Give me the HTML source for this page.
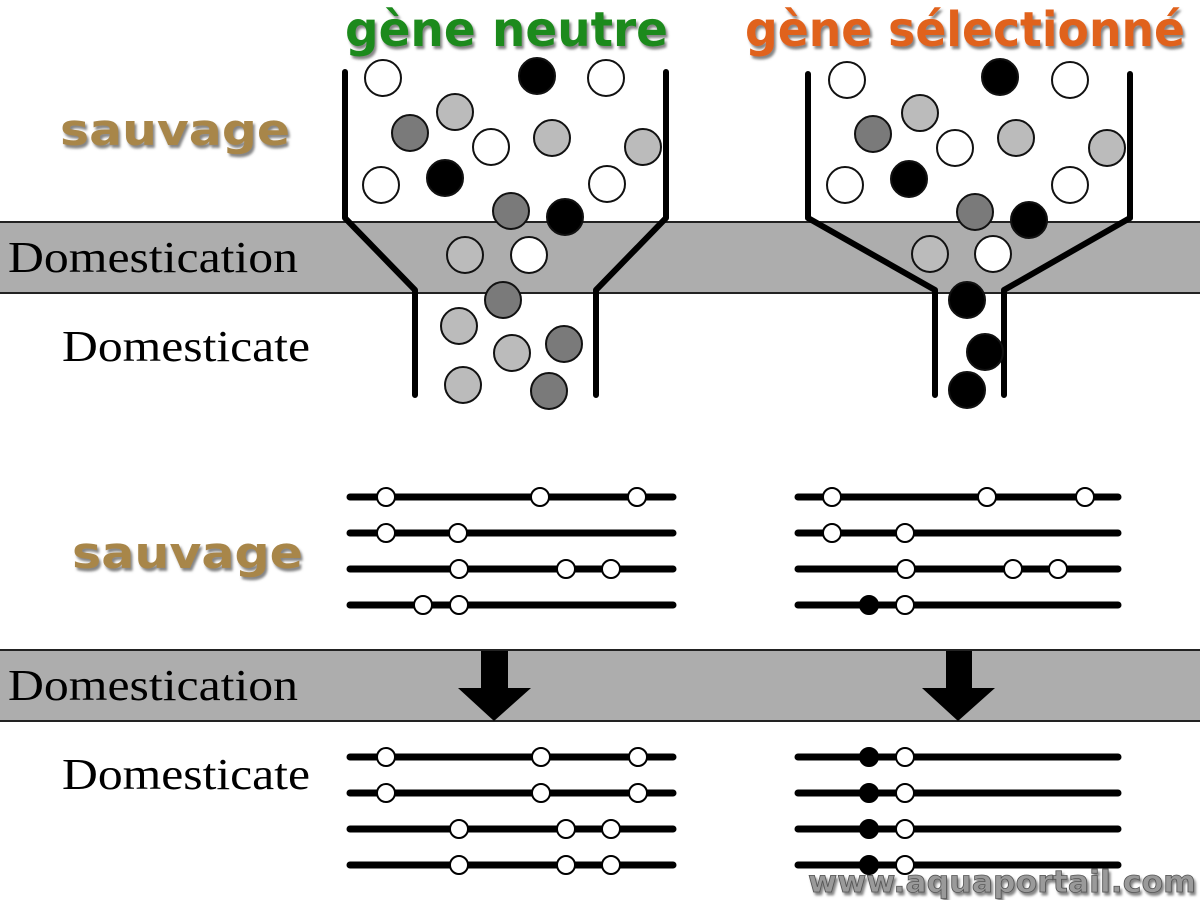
<!DOCTYPE html>
<html><head><meta charset="utf-8"><style>html,body{margin:0;padding:0;background:#fff}svg{display:block}</style></head>
<body>
<svg width="1200" height="900" viewBox="0 0 1200 900" xmlns="http://www.w3.org/2000/svg">
<defs>
<filter id="sh" x="-10%" y="-10%" width="130%" height="140%"><feDropShadow dx="2" dy="3" stdDeviation="1.2" flood-color="#666" flood-opacity="0.8"/></filter>
</defs>
<!-- bands -->
<rect x="-2" y="222" width="1204" height="71" fill="#adadad" stroke="#222" stroke-width="2"/>
<rect x="-2" y="650" width="1204" height="71" fill="#adadad" stroke="#222" stroke-width="2"/>

<!-- titles -->
<g font-family="'DejaVu Sans','Liberation Sans',sans-serif" font-weight="bold" filter="url(#sh)">
<text x="345" y="46" font-size="48" fill="#1e8a1e" textLength="323" lengthAdjust="spacingAndGlyphs">gène neutre</text>
<text x="745" y="46" font-size="48" fill="#e0621c" textLength="440" lengthAdjust="spacingAndGlyphs">gène sélectionné</text>
<text x="60" y="145" font-size="44" fill="#a8864a" textLength="230" lengthAdjust="spacingAndGlyphs">sauvage</text>
<text x="72" y="568" font-size="44" fill="#a8864a" textLength="231" lengthAdjust="spacingAndGlyphs">sauvage</text>
</g>
<g font-family="'Liberation Serif',serif" font-size="44" fill="#000">
<text x="8" y="272" textLength="290" lengthAdjust="spacingAndGlyphs">Domestication</text>
<text x="62" y="361" textLength="248" lengthAdjust="spacingAndGlyphs">Domesticate</text>
<text x="8" y="700" textLength="290" lengthAdjust="spacingAndGlyphs">Domestication</text>
<text x="62" y="789" textLength="248" lengthAdjust="spacingAndGlyphs">Domesticate</text>
</g>

<!-- funnels -->
<g fill="none" stroke="#000" stroke-width="6" stroke-linecap="round" stroke-linejoin="round">
<polyline points="345,72 345,218 415,290 415,395"/>
<polyline points="666,72 666,218 596,290 596,395"/>
<polyline points="808,74 808,218 935,290 935,395"/>
<polyline points="1130,74 1130,218 1004,290 1004,395"/>
</g>

<!-- balls -->
<g stroke="#111" stroke-width="2">
<!-- left -->
<circle cx="383" cy="78" r="18" fill="#fff"/>
<circle cx="537" cy="76" r="18" fill="#000"/>
<circle cx="606" cy="78" r="18" fill="#fff"/>
<circle cx="455" cy="112" r="18" fill="#bbb"/>
<circle cx="410" cy="133" r="18" fill="#7a7a7a"/>
<circle cx="491" cy="147" r="18" fill="#fff"/>
<circle cx="552" cy="138" r="18" fill="#bbb"/>
<circle cx="643" cy="147" r="18" fill="#bbb"/>
<circle cx="381" cy="185" r="18" fill="#fff"/>
<circle cx="445" cy="178" r="18" fill="#000"/>
<circle cx="607" cy="184" r="18" fill="#fff"/>
<circle cx="511" cy="211" r="18" fill="#7a7a7a"/>
<circle cx="565" cy="217" r="18" fill="#000"/>
<circle cx="465" cy="255" r="18" fill="#bbb"/>
<circle cx="529" cy="255" r="18" fill="#fff"/>
<circle cx="503" cy="300" r="18" fill="#7a7a7a"/>
<circle cx="459" cy="326" r="18" fill="#bbb"/>
<circle cx="512" cy="353" r="18" fill="#bbb"/>
<circle cx="564" cy="344" r="18" fill="#7a7a7a"/>
<circle cx="463" cy="385" r="18" fill="#bbb"/>
<circle cx="549" cy="391" r="18" fill="#7a7a7a"/>
<!-- right -->
<circle cx="847" cy="80" r="18" fill="#fff"/>
<circle cx="1000" cy="77" r="18" fill="#000"/>
<circle cx="1070" cy="80" r="18" fill="#fff"/>
<circle cx="920" cy="113" r="18" fill="#bbb"/>
<circle cx="873" cy="134" r="18" fill="#7a7a7a"/>
<circle cx="955" cy="148" r="18" fill="#fff"/>
<circle cx="1016" cy="138" r="18" fill="#bbb"/>
<circle cx="1107" cy="148" r="18" fill="#bbb"/>
<circle cx="845" cy="185" r="18" fill="#fff"/>
<circle cx="909" cy="179" r="18" fill="#000"/>
<circle cx="1070" cy="185" r="18" fill="#fff"/>
<circle cx="975" cy="212" r="18" fill="#7a7a7a"/>
<circle cx="1029" cy="220" r="18" fill="#000"/>
<circle cx="930" cy="254" r="18" fill="#bbb"/>
<circle cx="993" cy="254" r="18" fill="#fff"/>
<circle cx="967" cy="300" r="18" fill="#000"/>
<circle cx="985" cy="352" r="18" fill="#000"/>
<circle cx="967" cy="390" r="18" fill="#000"/>
</g>

<!-- chromosome lines -->
<g stroke="#000" stroke-width="7" stroke-linecap="round">
<line x1="350" y1="497" x2="673" y2="497"/><line x1="350" y1="533" x2="673" y2="533"/>
<line x1="350" y1="569" x2="673" y2="569"/><line x1="350" y1="605" x2="673" y2="605"/>
<line x1="798" y1="497" x2="1118" y2="497"/><line x1="798" y1="533" x2="1118" y2="533"/>
<line x1="798" y1="569" x2="1118" y2="569"/><line x1="798" y1="605" x2="1118" y2="605"/>
<line x1="350" y1="757" x2="673" y2="757"/><line x1="350" y1="793" x2="673" y2="793"/>
<line x1="350" y1="829" x2="673" y2="829"/><line x1="350" y1="865" x2="673" y2="865"/>
<line x1="798" y1="757" x2="1118" y2="757"/><line x1="798" y1="793" x2="1118" y2="793"/>
<line x1="798" y1="829" x2="1118" y2="829"/><line x1="798" y1="865" x2="1118" y2="865"/>
</g>
<g stroke="#000" stroke-width="2" fill="#fff">
<circle cx="386" cy="497" r="9"/><circle cx="540" cy="497" r="9"/><circle cx="637" cy="497" r="9"/>
<circle cx="386" cy="533" r="9"/><circle cx="458" cy="533" r="9"/>
<circle cx="459" cy="569" r="9"/><circle cx="566" cy="569" r="9"/><circle cx="611" cy="569" r="9"/>
<circle cx="423" cy="605" r="9"/><circle cx="459" cy="605" r="9"/>
<circle cx="832" cy="497" r="9"/><circle cx="987" cy="497" r="9"/><circle cx="1085" cy="497" r="9"/>
<circle cx="832" cy="533" r="9"/><circle cx="905" cy="533" r="9"/>
<circle cx="906" cy="569" r="9"/><circle cx="1013" cy="569" r="9"/><circle cx="1058" cy="569" r="9"/>
<circle cx="869" cy="605" r="9" fill="#000"/><circle cx="905" cy="605" r="9"/>
<circle cx="386" cy="757" r="9"/><circle cx="541" cy="757" r="9"/><circle cx="638" cy="757" r="9"/>
<circle cx="386" cy="793" r="9"/><circle cx="541" cy="793" r="9"/><circle cx="638" cy="793" r="9"/>
<circle cx="459" cy="829" r="9"/><circle cx="566" cy="829" r="9"/><circle cx="611" cy="829" r="9"/>
<circle cx="459" cy="865" r="9"/><circle cx="566" cy="865" r="9"/><circle cx="611" cy="865" r="9"/>
<circle cx="869" cy="757" r="9" fill="#000"/><circle cx="905" cy="757" r="9"/>
<circle cx="869" cy="793" r="9" fill="#000"/><circle cx="905" cy="793" r="9"/>
<circle cx="869" cy="829" r="9" fill="#000"/><circle cx="905" cy="829" r="9"/>
<circle cx="869" cy="865" r="9" fill="#000"/><circle cx="905" cy="865" r="9"/>
</g>

<!-- arrows -->
<polygon points="481,651 508,651 508,688 531,688 494,721 458,688 481,688" fill="#000"/>
<polygon points="946,651 972,651 972,688 995,688 958,721 922,688 946,688" fill="#000"/>

<!-- watermark -->
<text x="808" y="892" font-family="'DejaVu Sans','Liberation Sans',sans-serif" font-weight="bold" font-size="30" fill="#9a9a9a" stroke="#555" stroke-width="0.8" textLength="388" lengthAdjust="spacingAndGlyphs" filter="url(#sh)">www.aquaportail.com</text>
</svg>
</body></html>
